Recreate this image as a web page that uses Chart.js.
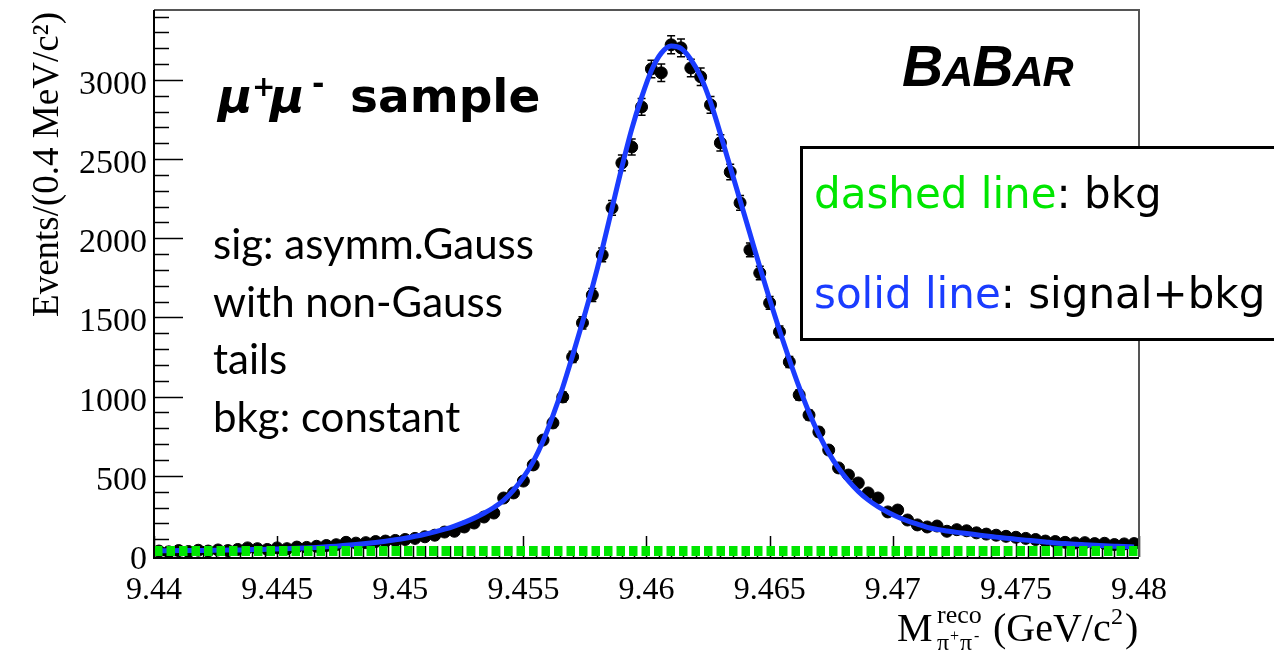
<!DOCTYPE html>
<html>
<head>
<meta charset="utf-8">
<script src="https://cdn.jsdelivr.net/npm/chart.js@4.4.1/dist/chart.umd.min.js"></script>
<style>
html, body { margin: 0; padding: 0; background: #fff; }
#wrap { position: relative; width: 1274px; height: 654px; overflow: hidden; }
</style>
</head>
<body>
<div id="wrap"><canvas id="massChart" width="1274" height="654"></canvas></div>
<script>
// binning: 100 bins of 0.4 MeV between 9.44 and 9.48 GeV
const binLow = 9.44;
const binWidth = 0.0004;

// events per bin
const events = [
  25, 20, 28, 22, 30, 25, 32, 28, 35, 45,
  40, 35, 45, 40, 50, 48, 55, 60, 65, 80,
  75, 78, 85, 88, 92, 98, 105, 115, 125, 145,
  150, 177, 202, 240, 265, 360, 392, 467, 569, 726,
  834, 998, 1251, 1466, 1642, 1895, 2192, 2476, 2577, 2830,
  3070, 3045, 3222, 3203, 3076, 3020, 2843, 2603, 2419, 2224,
  1927, 1781, 1592, 1409, 1219, 1011, 884, 777, 663, 550,
  505, 455, 392, 360, 272, 284, 221, 190, 177, 183,
  150, 160, 153, 140, 132, 125, 118, 112, 105, 98,
  88, 85, 80, 76, 78, 72, 74, 66, 70, 72
];

// signal+bkg fit curve at bin centres
const fitCurve = [
  27, 27, 28, 28, 29, 29, 30, 31, 32, 33,
  35, 36, 38, 40, 42, 45, 48, 52, 56, 61,
  66, 72, 79, 87, 96, 106, 118, 131, 146, 163,
  183, 206, 233, 264, 300, 345, 410, 490, 590, 720,
  880, 1060, 1260, 1470, 1690, 1930, 2190, 2450, 2690, 2890,
  3060, 3170, 3215, 3200, 3130, 3020, 2860, 2660, 2450, 2240,
  2030, 1820, 1615, 1420, 1235, 1060, 900, 762, 645, 548,
  468, 402, 348, 305, 270, 240, 215, 195, 175, 162,
  152, 143, 136, 128, 120, 113, 106, 100, 94, 88,
  82, 76, 72, 68, 65, 62, 59, 56, 53, 51
];

// constant background
const bkgLevel = 25;

const xTickVals = [9.44, 9.445, 9.45, 9.455, 9.46, 9.465, 9.47, 9.475, 9.48];
const yTickVals = [0, 500, 1000, 1500, 2000, 2500, 3000];

const binCentre = i => binLow + (i + 0.5) * binWidth;
const dataPoints = events.map((v, i) => ({ x: binCentre(i), y: v }));
const fitPoints = fitCurve.map((v, i) => ({ x: binCentre(i), y: v }));
const bkgPoints = [{ x: 9.44, y: bkgLevel }, { x: 9.48, y: bkgLevel }];

const GREEN = '#00e600';
const BLUE = '#1a3cff';

// ROOT style frame, inner ticks and error bars
const rootAxes = {
  id: 'rootAxes',
  beforeDatasetsDraw(chart) {
    const { ctx, chartArea: a, scales: { x, y } } = chart;
    ctx.save();
    // error bars (sqrt N)
    ctx.strokeStyle = '#000';
    ctx.lineWidth = 1.5;
    events.forEach((v, i) => {
      const px = x.getPixelForValue(binCentre(i));
      const e = Math.sqrt(v);
      const top = y.getPixelForValue(v + e);
      const bot = y.getPixelForValue(v - e);
      ctx.beginPath();
      ctx.moveTo(px, top); ctx.lineTo(px, bot);
      ctx.moveTo(px - 4, top); ctx.lineTo(px + 4, top);
      ctx.moveTo(px - 4, bot); ctx.lineTo(px + 4, bot);
      ctx.stroke();
    });
    // y ticks every 100, major every 500
    for (let v = 0; v <= 3400; v += 100) {
      const py = Math.round(y.getPixelForValue(v)) + 0.5;
      const len = v % 500 === 0 ? 29 : 15;
      ctx.beginPath(); ctx.moveTo(a.left, py); ctx.lineTo(a.left + len, py); ctx.stroke();
    }
    // x ticks every 0.0005, major every 0.005
    for (let k = 0; k <= 80; k++) {
      const px = Math.round(x.getPixelForValue(9.44 + k * 0.0005)) + 0.5;
      const len = k % 10 === 0 ? 21 : 11;
      ctx.beginPath(); ctx.moveTo(px, a.bottom); ctx.lineTo(px, a.bottom - len); ctx.stroke();
    }
    ctx.restore();
  },
  afterDatasetsDraw(chart) {
    const { ctx, chartArea: a } = chart;
    ctx.save();
    ctx.strokeStyle = '#555';
    ctx.lineWidth = 2;
    ctx.beginPath();
    ctx.moveTo(a.left, a.top); ctx.lineTo(a.right, a.top); ctx.lineTo(a.right, a.bottom);
    ctx.stroke();
    ctx.strokeStyle = '#000';
    ctx.lineWidth = 2;
    ctx.beginPath();
    ctx.moveTo(a.left, a.top); ctx.lineTo(a.left, a.bottom + 1); ctx.lineTo(a.right, a.bottom + 1);
    ctx.stroke();
    ctx.restore();
  }
};

// texts, titles and the legend box
const annotations = {
  id: 'annotations',
  afterDraw(chart) {
    const ctx = chart.ctx;
    ctx.save();
    ctx.fillStyle = '#000';
    ctx.textBaseline = 'alphabetic';

    // y title
    ctx.save();
    ctx.translate(48, 12);
    ctx.rotate(-Math.PI / 2);
    ctx.textAlign = 'right';
    ctx.textBaseline = 'middle';
    ctx.font = '37px "Liberation Serif"';
    ctx.fillText('Events/(0.4 MeV/c²)', 0, 0);
    ctx.restore();

    // x title
    ctx.textAlign = 'left';
    ctx.font = '40px "Liberation Serif"';
    ctx.fillText('M', 897, 641);
    ctx.font = '26px "Liberation Serif"';
    ctx.fillText('reco', 937, 623);
    ctx.font = '24px "Liberation Serif"';
    ctx.fillText('π', 937, 650);
    ctx.font = '16px "Liberation Serif"';
    ctx.fillText('+', 950, 641);
    ctx.font = '24px "Liberation Serif"';
    ctx.fillText('π', 960, 650);
    ctx.font = '16px "Liberation Serif"';
    ctx.fillText('-', 974, 641);
    ctx.font = '40px "Liberation Serif"';
    ctx.fillText('(GeV/c', 993, 641);
    ctx.font = '24px "Liberation Serif"';
    ctx.fillText('2', 1111, 624);
    ctx.font = '40px "Liberation Serif"';
    ctx.fillText(')', 1125, 641);

    // mu+mu- sample
    ctx.font = 'bold italic 47px "DejaVu Sans"';
    ctx.fillText('μ', 218, 112);
    ctx.font = 'bold 28px "DejaVu Sans"';
    ctx.fillText('+', 252, 96);
    ctx.font = 'bold italic 47px "DejaVu Sans"';
    ctx.fillText('μ', 270, 112);
    ctx.font = 'bold 30px "DejaVu Sans"';
    ctx.fillText('-', 312, 94);
    ctx.font = 'bold 47px "DejaVu Sans"';
    ctx.fillText('sample', 350, 112);

    // BaBar logo
    let bx = 902;
    const logo = [['B', 57], ['A', 43], ['B', 57], ['A', 43], ['R', 43]];
    logo.forEach(([ch, size]) => {
      ctx.font = 'bold italic ' + size + 'px "Liberation Sans"';
      ctx.fillText(ch, bx, 86);
      bx += ctx.measureText(ch).width - 1;
    });

    // fit description
    ctx.font = '42px Lato';
    const lines = ['sig: asymm.Gauss', 'with non-Gauss', 'tails', 'bkg: constant'];
    lines.forEach((t, i) => ctx.fillText(t, 213, 259 + i * 57.5));

    // legend box
    ctx.fillStyle = '#fff';
    ctx.fillRect(801, 147, 480, 192);
    ctx.strokeStyle = '#000';
    ctx.lineWidth = 3;
    ctx.strokeRect(801.5, 147.5, 480, 192);

    ctx.font = '42px "DejaVu Sans"';
    let tx = 814;
    ctx.fillStyle = GREEN;
    ctx.fillText('dashed line', tx, 208);
    tx += ctx.measureText('dashed line').width;
    ctx.fillStyle = '#000';
    ctx.fillText(': bkg', tx, 208);

    tx = 814;
    ctx.fillStyle = BLUE;
    ctx.fillText('solid line', tx, 308);
    tx += ctx.measureText('solid line').width;
    ctx.fillStyle = '#000';
    ctx.fillText(': signal+bkg', tx, 308);

    ctx.restore();
  }
};

const ctx = document.getElementById('massChart').getContext('2d');
const chart = new Chart(ctx, {
  type: 'scatter',
  data: {
    datasets: [{
      label: 'bkg',
      type: 'line',
      data: bkgPoints,
      borderColor: GREEN,
      borderWidth: 10,
      borderDash: [8.5, 4],
      borderCapStyle: 'butt',
      pointRadius: 0,
      order: 0
    }, {
      label: 'signal+bkg',
      type: 'line',
      data: fitPoints,
      borderColor: BLUE,
      borderWidth: 5,
      pointRadius: 0,
      cubicInterpolationMode: 'monotone',
      order: 1
    }, {
      label: 'data',
      data: dataPoints,
      backgroundColor: '#000',
      borderColor: '#000',
      pointRadius: 6,
      order: 2
    }]
  },
  options: {
    responsive: false,
    animation: false,
    events: [],
    layout: { padding: { top: 10, right: 135, left: 0, bottom: 0 } },
    plugins: { legend: { display: false }, tooltip: { enabled: false } },
    scales: {
      x: {
        type: 'linear',
        min: 9.44,
        max: 9.48,
        grid: { display: false, drawTicks: false },
        border: { display: false },
        afterBuildTicks: s => { s.ticks = xTickVals.map(v => ({ value: v })); },
        afterFit: s => { s.height = 97; s.paddingLeft = 0; s.paddingRight = 0; },
        ticks: {
          padding: 14,
          color: '#000',
          maxRotation: 0,
          autoSkip: false,
          font: { family: '"Liberation Serif"', size: 32 },
          callback: v => parseFloat(v.toFixed(3)).toString()
        }
      },
      y: {
        min: -12.6,
        max: 3442,
        grid: { display: false, drawTicks: false },
        border: { display: false },
        afterBuildTicks: s => { s.ticks = yTickVals.map(v => ({ value: v })); },
        afterFit: s => { s.width = 154; s.paddingTop = 0; s.paddingBottom = 0; },
        ticks: {
          padding: 7,
          labelOffset: 5,
          color: '#000',
          autoSkip: false,
          font: { family: '"Liberation Serif"', size: 34 },
          callback: v => String(v)
        }
      }
    }
  },
  plugins: [rootAxes, annotations]
});
</script>
</body>
</html>
